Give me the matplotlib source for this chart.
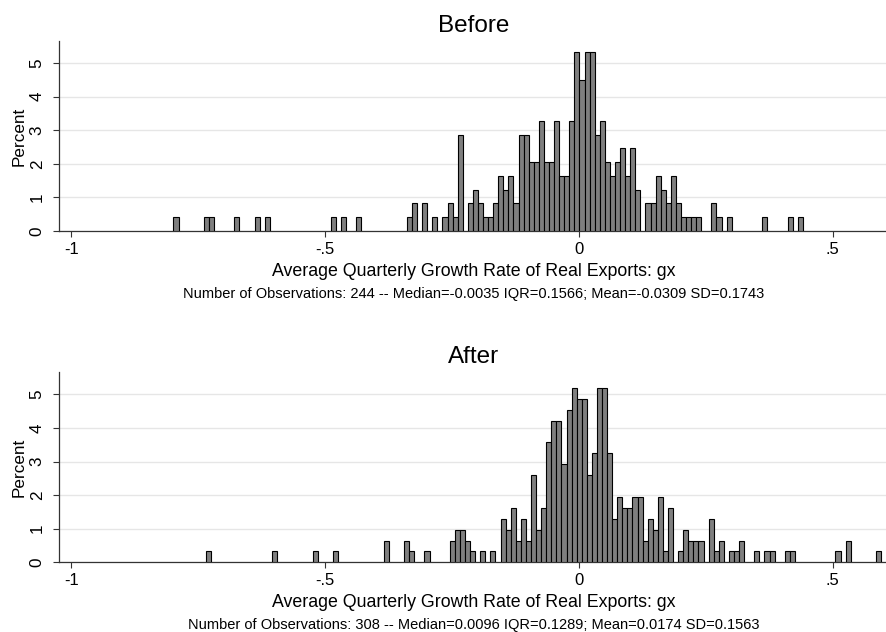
import numpy as np
import matplotlib
matplotlib.use("Agg")
import matplotlib.pyplot as plt

plt.rcParams['font.family'] = ['Liberation Sans', 'DejaVu Sans']

# histogram counts per 0.01-wide bin
bin_width = 0.01
before_start = -0.799
before_counts = [
    1, 0, 0, 0, 0, 0, 1, 1, 0, 0,
    0, 0, 1, 0, 0, 0, 1, 0, 1, 0,
    0, 0, 0, 0, 0, 0, 0, 0, 0, 0,
    0, 1, 0, 1, 0, 0, 1, 0, 0, 0,
    0, 0, 0, 0, 0, 0, 1, 2, 0, 2,
    0, 1, 0, 1, 2, 1, 7, 0, 2, 3,
    2, 1, 1, 2, 4, 3, 4, 2, 7, 7,
    5, 5, 8, 5, 5, 8, 4, 4, 8, 13,
    11, 13, 13, 7, 8, 5, 4, 5, 6, 4,
    6, 3, 0, 2, 2, 4, 3, 2, 4, 2,
    1, 1, 1, 1, 0, 0, 2, 1, 0, 1,
    0, 0, 0, 0, 0, 0, 1, 0, 0, 0,
    0, 1, 0, 1,
]
after_start = -0.7345
after_counts = [
    1, 0, 0, 0, 0, 0, 0, 0, 0, 0,
    0, 0, 0, 1, 0, 0, 0, 0, 0, 0,
    0, 1, 0, 0, 0, 1, 0, 0, 0, 0,
    0, 0, 0, 0, 0, 2, 0, 0, 0, 2,
    1, 0, 0, 1, 0, 0, 0, 0, 2, 3,
    3, 2, 1, 0, 1, 0, 1, 0, 4, 3,
    5, 2, 4, 2, 8, 3, 5, 11, 13, 13,
    9, 14, 16, 15, 15, 8, 10, 16, 16, 10,
    4, 6, 5, 5, 6, 6, 2, 4, 3, 6,
    1, 5, 0, 1, 3, 2, 2, 2, 0, 4,
    1, 2, 0, 1, 1, 2, 0, 0, 1, 0,
    1, 1, 0, 0, 1, 1, 0, 0, 0, 0,
    0, 0, 0, 0, 1, 0, 2, 0, 0, 0,
    0, 0, 1,
]

titles = ["Before", "After"]
xlabel = "Average Quarterly Growth Rate of Real Exports: gx"
notes = [
    "Number of Observations: 244 -- Median=-0.0035 IQR=0.1566; Mean=-0.0309 SD=0.1743",
    "Number of Observations: 308 -- Median=0.0096 IQR=0.1289; Mean=0.0174 SD=0.1563",
]
xticks = [-1, -0.5, 0, 0.5]
xtick_labels = ["-1", "-.5", "0", ".5"]

W, H = 887, 632
fig = plt.figure(figsize=(W / 100, H / 100), dpi=100)

panels = [(before_start, before_counts), (after_start, after_counts)]
shift = 331.3  # vertical pixel offset of the second panel
cx = 473.5     # horizontal centre of the plot region (px)

for i, (start, counts) in enumerate(panels):
    counts = np.array(counts)
    pct = counts / counts.sum() * 100
    lefts = start + np.arange(len(counts)) * bin_width

    top_px = 41 + i * shift
    bot_px = 231 + i * shift
    ax = fig.add_axes([59.3 / W, 1 - bot_px / H, (W - 59.3) / W, (bot_px - top_px) / H])
    keep = counts > 0
    ax.bar(lefts[keep], pct[keep], width=bin_width, align='edge',
           color='#7f7f7f', edgecolor='black', linewidth=0.8, zorder=3)

    ax.set_xlim(-1.024, 0.607)
    ax.set_ylim(0, 5.66)
    ax.set_xticks(xticks)
    ax.set_xticklabels(xtick_labels)
    ax.set_yticks(range(6))
    ax.yaxis.grid(True, color='#e6e6e6', linewidth=1.0, zorder=0)
    ax.set_axisbelow(True)
    for s in ['top', 'right']:
        ax.spines[s].set_visible(False)
    for s in ['left', 'bottom']:
        ax.spines[s].set_color('#333333')
        ax.spines[s].set_linewidth(0.9)
    ax.tick_params(axis='x', length=4, width=0.8, color='#333333', labelsize=12, pad=4)
    ax.tick_params(axis='y', length=4.5, width=0.8, color='#333333', labelsize=12.3, pad=6,
                   labelrotation=90)
    for lab in ax.get_yticklabels():
        lab.set_va('center')
    ax.set_ylabel("Percent", fontsize=12.3, labelpad=2.5)

    fig.text(cx / W, 1 - (31.7 + i * shift) / H, titles[i], fontsize=17.5,
             ha='center', va='baseline')
    fig.text(cx / W, 1 - (275.7 + i * shift) / H, xlabel, fontsize=12.8,
             ha='center', va='baseline')
    fig.text(cx / W, 1 - (297.7 + i * shift) / H, notes[i], fontsize=10.5,
             ha='center', va='baseline')

fig.savefig("out.png", dpi=100, facecolor='white')
